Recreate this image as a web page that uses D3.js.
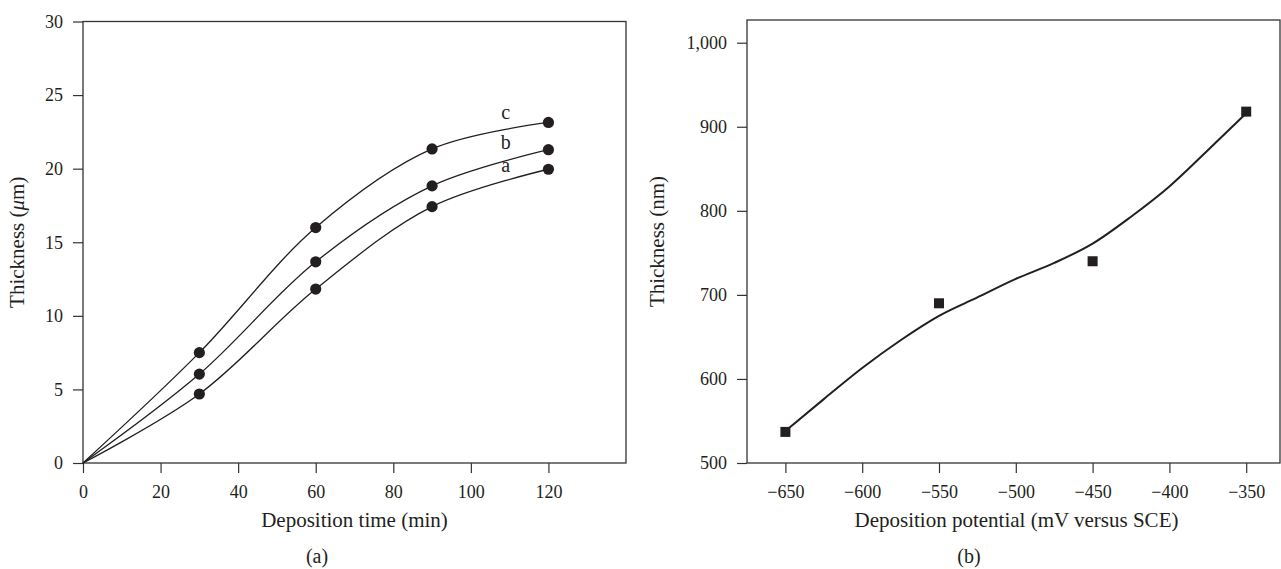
<!DOCTYPE html>
<html>
<head>
<meta charset="utf-8">
<script src="https://cdn.jsdelivr.net/npm/d3@7"></script>
<style>
  html, body { margin: 0; padding: 0; background: #fff; }
  svg text { font-family: 'Liberation Serif', 'Times New Roman', serif; fill: #231f20; }
  .tick line { stroke: #333; stroke-width: 1.2; }
</style>
</head>
<body>
<script>
(function() {
  'use strict';

  // panel (a): thickness vs deposition time, three curves
  const timeMin = [0, 30, 60, 90, 120];
  const thickA = [0, 4.69, 11.82, 17.42, 19.96];
  const thickB = [0, 6.04, 13.67, 18.83, 21.29];
  const thickC = [0, 7.5, 16.0, 21.34, 23.14];
  const curveNames = ['a', 'b', 'c'];
  const curveLabelX = [109, 109, 109];
  const curveLabelY = [20.2, 21.75, 23.75];
  const timeTicks = [0, 20, 40, 60, 80, 100, 120];
  const umTicks = [0, 5, 10, 15, 20, 25, 30];

  // panel (b): thickness vs deposition potential
  const potential = [-650, -550, -450, -350];
  const thickNm = [537, 690, 740, 918];
  const fitPotential = [-650, -625, -600, -575, -550, -525, -500, -475, -450, -425, -400, -375, -350];
  const fitThick = [538, 576, 613, 646, 675, 697, 719, 738, 761, 793, 829, 872, 916];
  const potTicks = [-650, -600, -550, -500, -450, -400, -350];
  const nmTicks = [500, 600, 700, 800, 900, 1000];

  const w = 1281;
  const h = 569;
  const ink = '#231f20';

  const svg = d3.select('body')
    .append('svg')
    .attr('width', w)
    .attr('height', h);

  svg.append('rect')
    .attr('width', w)
    .attr('height', h)
    .attr('fill', '#fff');

  // ---------- panel (a)
  const xA = d3.scaleLinear().domain([0, 140]).range([83, 626]);
  const yA = d3.scaleLinear().domain([0, 30]).range([463, 21.5]);

  const gA = svg.append('g');

  gA.append('rect')
    .attr('x', xA(0))
    .attr('y', yA(30))
    .attr('width', xA(140) - xA(0))
    .attr('height', yA(0) - yA(30))
    .attr('fill', 'none')
    .attr('stroke', '#333')
    .attr('stroke-width', 1.3);

  const xAxisA = gA.append('g')
    .attr('transform', 'translate(0,' + yA(0) + ')')
    .call(d3.axisBottom(xA).tickValues(timeTicks).tickSize(10).tickPadding(12));
  const yAxisA = gA.append('g')
    .attr('transform', 'translate(' + xA(0) + ',0)')
    .call(d3.axisLeft(yA).tickValues(umTicks).tickSize(10).tickPadding(10));

  [xAxisA, yAxisA].forEach((ax) => {
    ax.select('.domain').remove();
    ax.selectAll('text').style('font-size', '18px').attr('fill', ink);
  });

  const series = [thickA, thickB, thickC];
  const lineA = d3.line()
    .x((d) => xA(d[0]))
    .y((d) => yA(d[1]))
    .curve(d3.curveCatmullRom.alpha(0.5));

  series.forEach((vals, i) => {
    const pts = timeMin.map((t, j) => [t, vals[j]]);
    gA.append('path')
      .attr('d', lineA(pts))
      .attr('fill', 'none')
      .attr('stroke', ink)
      .attr('stroke-width', 1.3);

    gA.selectAll('circle.s' + i)
      .data(pts.filter((p) => p[0] > 0))
      .enter()
      .append('circle')
      .attr('class', 's' + i)
      .attr('cx', (d) => xA(d[0]))
      .attr('cy', (d) => yA(d[1]))
      .attr('r', 5.6)
      .attr('fill', ink);

    gA.append('text')
      .attr('x', xA(curveLabelX[i]))
      .attr('y', yA(curveLabelY[i]))
      .attr('dy', '0.3em')
      .style('text-anchor', 'middle')
      .style('font-size', '20px')
      .text(curveNames[i]);
  });

  gA.append('text')
    .attr('x', (xA(0) + xA(140)) / 2)
    .attr('y', 527)
    .style('text-anchor', 'middle')
    .style('font-size', '21px')
    .text('Deposition time (min)');

  const yTitleA = gA.append('text')
    .attr('transform', 'translate(24,' + ((yA(0) + yA(30)) / 2) + ') rotate(-90)')
    .style('text-anchor', 'middle')
    .style('font-size', '21px');
  yTitleA.append('tspan').text('Thickness (');
  yTitleA.append('tspan').style('font-style', 'italic').text('μ');
  yTitleA.append('tspan').text('m)');

  svg.append('text')
    .attr('x', 317)
    .attr('y', 563)
    .style('text-anchor', 'middle')
    .style('font-size', '20px')
    .text('(a)');

  // ---------- panel (b)
  const xB = d3.scaleLinear().domain([-675, -328]).range([747, 1280]);
  const yB = d3.scaleLinear().domain([500, 1027]).range([463, 20]);

  const gB = svg.append('g');

  gB.append('rect')
    .attr('x', xB(-675))
    .attr('y', yB(1027))
    .attr('width', xB(-328) - xB(-675))
    .attr('height', yB(500) - yB(1027))
    .attr('fill', 'none')
    .attr('stroke', '#333')
    .attr('stroke-width', 1.3);

  const xAxisB = gB.append('g')
    .attr('transform', 'translate(0,' + yB(500) + ')')
    .call(d3.axisBottom(xB).tickValues(potTicks).tickSize(10).tickPadding(12)
      .tickFormat(d3.format('d')));
  const yAxisB = gB.append('g')
    .attr('transform', 'translate(' + xB(-675) + ',0)')
    .call(d3.axisLeft(yB).tickValues(nmTicks).tickSize(10).tickPadding(10)
      .tickFormat(d3.format(',')));

  [xAxisB, yAxisB].forEach((ax) => {
    ax.select('.domain').remove();
    ax.selectAll('text').style('font-size', '18px').attr('fill', ink);
  });

  const fitLine = d3.line()
    .x((d) => xB(d[0]))
    .y((d) => yB(d[1]))
    .curve(d3.curveMonotoneX);

  gB.append('path')
    .attr('d', fitLine(fitPotential.map((p, i) => [p, fitThick[i]])))
    .attr('fill', 'none')
    .attr('stroke', ink)
    .attr('stroke-width', 2);

  gB.selectAll('rect.pt')
    .data(potential.map((p, i) => [p, thickNm[i]]))
    .enter()
    .append('rect')
    .attr('class', 'pt')
    .attr('x', (d) => xB(d[0]) - 5)
    .attr('y', (d) => yB(d[1]) - 5)
    .attr('width', 10)
    .attr('height', 10)
    .attr('fill', ink);

  gB.append('text')
    .attr('x', (xB(-675) + xB(-328)) / 2 + 3)
    .attr('y', 527)
    .style('text-anchor', 'middle')
    .style('font-size', '21px')
    .text('Deposition potential (mV versus SCE)');

  gB.append('text')
    .attr('transform', 'translate(664,' + ((yB(500) + yB(1027)) / 2) + ') rotate(-90)')
    .style('text-anchor', 'middle')
    .style('font-size', '21px')
    .text('Thickness (nm)');

  svg.append('text')
    .attr('x', 969)
    .attr('y', 563)
    .style('text-anchor', 'middle')
    .style('font-size', '20px')
    .text('(b)');
}());
</script>
</body>
</html>
